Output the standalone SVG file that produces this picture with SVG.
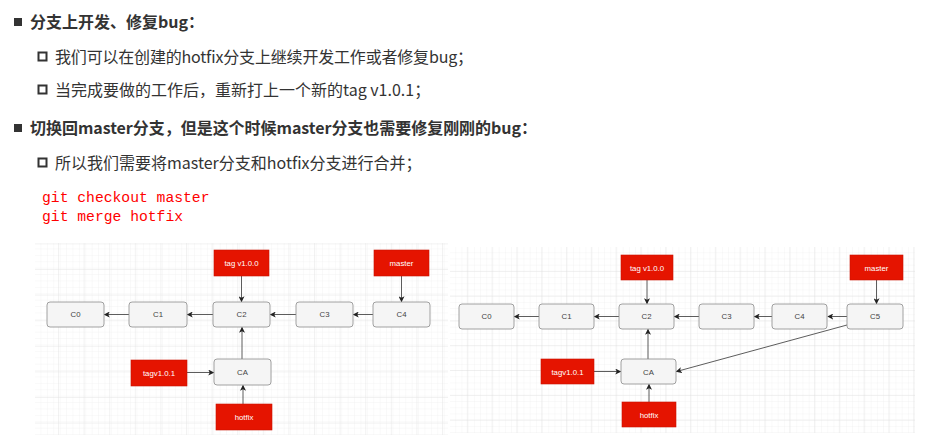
<svg xmlns="http://www.w3.org/2000/svg" width="941" height="440" viewBox="0 0 941 440">
<defs>
<pattern id="minorL" x="35" y="243" width="6.4" height="6.4" patternUnits="userSpaceOnUse">
<path d="M6.4 0V6.4M0 6.4H6.4" fill="none" stroke="#eeeeee" stroke-width="0.7"/>
</pattern>
<pattern id="majorL" x="33.4" y="244.4" width="25.6" height="25.6" patternUnits="userSpaceOnUse">
<path d="M25.6 0V25.6M0 25.6H25.6" fill="none" stroke="#dedede" stroke-width="0.8"/>
</pattern>
<pattern id="minorR" x="450" y="247" width="6.2" height="6.2" patternUnits="userSpaceOnUse">
<path d="M6.2 0V6.2M0 6.2H6.2" fill="none" stroke="#eeeeee" stroke-width="0.7"/>
</pattern>
<pattern id="majorR" x="443" y="247" width="24.8" height="24.8" patternUnits="userSpaceOnUse">
<path d="M24.8 0V24.8M0 24.8H24.8" fill="none" stroke="#dedede" stroke-width="0.8"/>
</pattern>
<marker id="arr" viewBox="0 0 8 8" refX="7" refY="4" markerWidth="6" markerHeight="6" markerUnits="userSpaceOnUse" orient="auto">
<path d="M0 0L8 4L0 8L2 4Z" fill="#222"/>
</marker>
</defs>
<style>
.t{font-family:"Noto Sans CJK SC","Noto Sans",sans-serif;font-size:16px;fill:#333}
.b{font-weight:bold}
.code{font-family:"Liberation Mono",monospace;font-size:14.7px;fill:#ff0000}
.n rect{fill:#f5f5f5;stroke:#8a8a8a;stroke-width:0.8}
.n text{font-family:"Liberation Sans",Arial,sans-serif;font-size:7.8px;fill:#444;text-anchor:middle}
.r rect{fill:#e51400;stroke:#c91200;stroke-width:0.6}
.r text{font-family:"Liberation Sans",Arial,sans-serif;font-size:7.8px;fill:#fff;text-anchor:middle}
.e path{fill:none;stroke:#333;stroke-width:0.8;marker-end:url(#arr)}
</style>
<rect width="941" height="440" fill="#fff"/>
<g id="text">
<rect x="14" y="18" width="8" height="8" fill="#333"/>
<text class="t b" x="30" y="28">分支上开发、修复bug：</text>
<rect x="38.5" y="52.5" width="8" height="8" fill="none" stroke="#333" stroke-width="2"/>
<text class="t" x="55" y="63" textLength="418" lengthAdjust="spacing">我们可以在创建的hotfix分支上继续开发工作或者修复bug；</text>
<rect x="38.5" y="85.5" width="8" height="8" fill="none" stroke="#333" stroke-width="2"/>
<text class="t" x="55" y="96">当完成要做的工作后，重新打上一个新的tag v1.0.1；</text>
<rect x="14" y="124" width="8" height="8" fill="#333"/>
<text class="t b" x="30" y="134" textLength="507" lengthAdjust="spacing">切换回master分支，但是这个时候master分支也需要修复刚刚的bug：</text>
<rect x="38.5" y="158.5" width="8" height="8" fill="none" stroke="#333" stroke-width="2"/>
<text class="t" x="55" y="169">所以我们需要将master分支和hotfix分支进行合并；</text>
<text class="code" x="42" y="202">git checkout master</text>
<text class="code" x="42" y="221">git merge hotfix</text>
</g>
<g id="grids">
<rect x="35" y="243" width="413" height="192" fill="url(#minorL)"/>
<rect x="35" y="243" width="413" height="192" fill="url(#majorL)"/>
<rect x="450" y="247" width="465" height="186" fill="url(#minorR)"/>
<rect x="450" y="247" width="465" height="186" fill="url(#majorR)"/>
</g>
<g id="connectors" class="e">
<path d="M129 314.5H104.5"/>
<path d="M213 314.5H187.5"/>
<path d="M296 314.5H270.5"/>
<path d="M373 314.5H353.5"/>
<path d="M241.5 276V301.5"/>
<path d="M401.5 276V301.5"/>
<path d="M242 359V327.5"/>
<path d="M187 372.5H213.5"/>
<path d="M243 404V385.5"/>
<path d="M539 316.5H514.5"/>
<path d="M619 316.5H594.5"/>
<path d="M699 316.5H674.5"/>
<path d="M772 316.5H754.5"/>
<path d="M847 316.5H828"/>
<path d="M647 280V303.5"/>
<path d="M876.5 280V303.5"/>
<path d="M648 359V329.5"/>
<path d="M594 371.5H620.5"/>
<path d="M649 402V384.5"/>
<path d="M847 325L676.5 371.5"/>
</g>
<g id="L-C0" class="n"><rect x="47" y="302" width="57" height="25" rx="3"/><text x="75.5" y="317">C0</text></g>
<g id="L-C1" class="n"><rect x="129" y="302" width="58" height="25" rx="3"/><text x="158" y="317">C1</text></g>
<g id="L-C2" class="n"><rect x="213" y="302" width="57" height="25" rx="3"/><text x="241.5" y="317">C2</text></g>
<g id="L-C3" class="n"><rect x="296" y="302" width="57" height="25" rx="3"/><text x="324.5" y="317">C3</text></g>
<g id="L-C4" class="n"><rect x="373" y="302" width="57" height="25" rx="3"/><text x="401.5" y="317">C4</text></g>
<g id="L-CA" class="n"><rect x="214" y="359" width="57" height="26" rx="3"/><text x="242.5" y="375">CA</text></g>
<g id="L-tag100" class="r"><rect x="214" y="250" width="55" height="26"/><text x="241.5" y="266">tag v1.0.0</text></g>
<g id="L-master" class="r"><rect x="374" y="250" width="55" height="26"/><text x="401.5" y="266">master</text></g>
<g id="L-tag101" class="r"><rect x="131" y="360" width="56" height="26"/><text x="159" y="375.5">tagv1.0.1</text></g>
<g id="L-hotfix" class="r"><rect x="216" y="404" width="56" height="26"/><text x="244" y="420">hotfix</text></g>
<g id="R-C0" class="n"><rect x="459" y="304" width="55" height="25" rx="3"/><text x="486.5" y="319">C0</text></g>
<g id="R-C1" class="n"><rect x="539" y="304" width="55" height="25" rx="3"/><text x="566.5" y="319">C1</text></g>
<g id="R-C2" class="n"><rect x="619" y="304" width="55" height="25" rx="3"/><text x="646.5" y="319">C2</text></g>
<g id="R-C3" class="n"><rect x="699" y="304" width="55" height="25" rx="3"/><text x="726.5" y="319">C3</text></g>
<g id="R-C4" class="n"><rect x="772" y="304" width="55" height="25" rx="3"/><text x="799.5" y="319">C4</text></g>
<g id="R-C5" class="n"><rect x="847" y="304" width="56" height="25" rx="3"/><text x="875" y="319">C5</text></g>
<g id="R-CA" class="n"><rect x="621" y="359" width="55" height="25" rx="3"/><text x="648.5" y="374.5">CA</text></g>
<g id="R-tag100" class="r"><rect x="621" y="255" width="52" height="25"/><text x="647" y="270.5">tag v1.0.0</text></g>
<g id="R-master" class="r"><rect x="850" y="255" width="53" height="25"/><text x="876.5" y="270.5">master</text></g>
<g id="R-tag101" class="r"><rect x="541" y="359" width="53" height="25"/><text x="567.5" y="374.5">tagv1.0.1</text></g>
<g id="R-hotfix" class="r"><rect x="622" y="402" width="54" height="25"/><text x="649" y="417.5">hotfix</text></g>
</svg>
